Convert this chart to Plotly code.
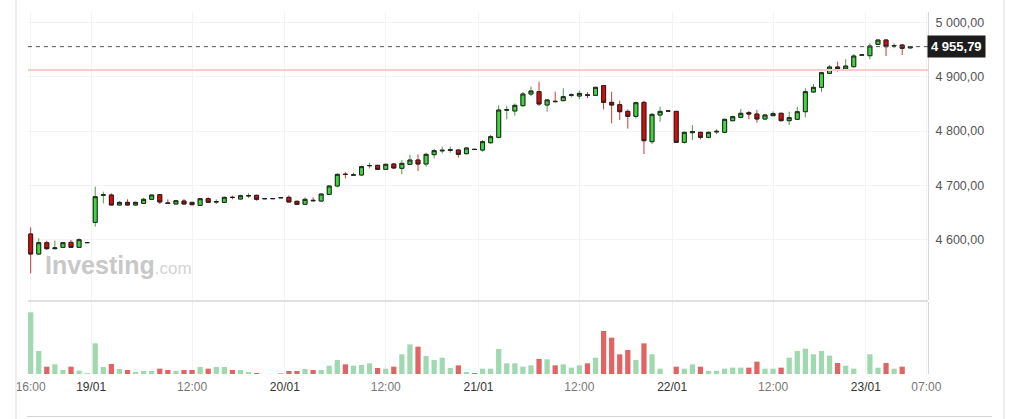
import plotly.graph_objects as go

# hourly candles, 18/01 16:00 -> 23/01 05:00 (index = candle number)
opens = [
    4610.1, 4573.2, 4594.1, 4583.1, 4585.5, 4594.7, 4585.5, 4594.1, 4631.6, 4681.5,
    4682.1, 4663.6, 4668.5, 4663.6, 4666.7, 4674.1, 4682.7, 4667.5, 4665.5, 4671.0,
    4668.5, 4663.0, 4675.3, 4669.0, 4668.5, 4678.0, 4674.7, 4680.3, 4681.5, 4675.3,
    4675.4, 4677.0, 4677.8, 4670.4, 4664.9, 4672.3, 4671.0, 4683.3, 4698.7, 4720.5,
    4718.8, 4719.0, 4736.0, 4736.8, 4729.4, 4739.3, 4731.3, 4738.7, 4746.6, 4739.3,
    4756.5, 4763.5, 4764.5, 4765.1, 4758.3, 4766.5, 4765.1, 4778.6, 4788.5, 4838.5,
    4837.1, 4846.9, 4868.4, 4872.7, 4848.1, 4855.0, 4856.1, 4866.1, 4864.7, 4867.0,
    4866.0, 4883.8, 4853.0, 4848.7, 4836.4, 4827.2, 4853.0, 4780.5, 4829.7, 4837.2,
    4836.4, 4779.2, 4797.0, 4797.7, 4788.5, 4798.5, 4797.7, 4819.2, 4825.4, 4834.0,
    4831.5, 4822.3, 4828.4, 4832.8, 4819.2, 4821.7, 4835.8, 4872.1, 4880.7, 4906.6,
    4918.2, 4914.6, 4918.8, 4940.0, 4939.1, 4960.0, 4968.0, 4957.0, 4958.8, 4953.5,
]
highs = [
    4622.4, 4602.1, 4597.8, 4598.0, 4595.5, 4599.0, 4602.1, 4595.0, 4697.4, 4688.2,
    4685.2, 4671.0, 4674.1, 4670.0, 4677.0, 4683.0, 4683.9, 4674.0, 4673.0, 4674.7,
    4669.5, 4676.5, 4678.0, 4674.0, 4679.0, 4680.8, 4683.0, 4685.2, 4682.7, 4675.6,
    4675.6, 4677.3, 4681.5, 4672.0, 4677.8, 4677.8, 4685.0, 4700.0, 4722.0, 4724.5,
    4723.3, 4736.0, 4741.7, 4738.0, 4740.0, 4740.5, 4746.6, 4756.5, 4757.1, 4760.2,
    4767.0, 4771.2, 4771.2, 4766.3, 4770.0, 4767.0, 4783.6, 4792.8, 4847.5, 4846.3,
    4851.2, 4872.0, 4882.0, 4891.2, 4858.6, 4872.7, 4878.9, 4870.0, 4874.6, 4872.0,
    4882.0, 4884.0, 4872.7, 4856.1, 4840.1, 4854.3, 4856.1, 4832.7, 4845.0, 4838.0,
    4837.0, 4799.0, 4811.2, 4798.9, 4799.0, 4803.2, 4823.0, 4828.0, 4840.8, 4837.0,
    4838.9, 4831.0, 4836.4, 4834.0, 4835.8, 4845.0, 4878.9, 4886.9, 4909.6, 4921.9,
    4928.0, 4932.4, 4942.2, 4941.5, 4961.9, 4969.3, 4969.3, 4962.0, 4960.0, 4957.0,
]
lows = [
    4537.6, 4571.4, 4580.6, 4582.0, 4584.5, 4584.3, 4585.0, 4593.5, 4623.6, 4666.7,
    4663.0, 4663.0, 4663.0, 4663.0, 4666.0, 4673.0, 4665.5, 4666.0, 4665.0, 4665.0,
    4663.6, 4662.4, 4667.0, 4665.5, 4667.5, 4674.1, 4674.0, 4676.5, 4671.6, 4675.0,
    4675.2, 4676.8, 4667.9, 4664.0, 4663.6, 4671.0, 4670.0, 4682.0, 4696.0, 4712.8,
    4717.0, 4718.0, 4731.3, 4728.5, 4728.8, 4731.0, 4720.2, 4737.5, 4726.4, 4734.4,
    4749.7, 4758.9, 4760.2, 4751.0, 4757.5, 4765.5, 4762.0, 4776.2, 4786.6, 4821.7,
    4828.4, 4845.0, 4864.7, 4846.3, 4835.8, 4852.9, 4856.0, 4862.0, 4858.6, 4861.0,
    4865.0, 4840.1, 4814.3, 4820.5, 4804.5, 4823.5, 4757.7, 4776.2, 4817.4, 4836.0,
    4778.5, 4777.0, 4783.5, 4784.8, 4786.5, 4794.6, 4796.0, 4818.0, 4823.5, 4821.7,
    4815.5, 4821.0, 4827.8, 4818.0, 4811.2, 4820.5, 4825.4, 4870.9, 4872.7, 4905.3,
    4909.6, 4914.0, 4917.6, 4939.5, 4932.4, 4958.8, 4938.5, 4953.0, 4940.4, 4952.0,
]
closes = [
    4573.2, 4594.1, 4583.1, 4584.5, 4594.1, 4585.5, 4599.7, 4594.4, 4679.0, 4682.5,
    4663.6, 4668.5, 4663.6, 4668.5, 4674.1, 4682.1, 4669.2, 4666.5, 4671.6, 4665.5,
    4664.2, 4675.3, 4668.5, 4670.0, 4677.8, 4677.5, 4680.8, 4681.0, 4674.1, 4675.4,
    4675.5, 4677.2, 4669.2, 4664.9, 4674.1, 4671.6, 4683.9, 4698.7, 4720.2, 4720.0,
    4719.2, 4734.4, 4736.5, 4729.4, 4738.7, 4731.9, 4740.5, 4746.6, 4739.3, 4757.1,
    4763.9, 4764.5, 4765.5, 4757.1, 4768.8, 4766.0, 4780.5, 4789.7, 4838.9, 4839.5,
    4847.5, 4868.4, 4874.0, 4850.0, 4857.4, 4854.4, 4863.5, 4866.8, 4869.6, 4866.0,
    4880.7, 4853.0, 4848.1, 4835.8, 4827.2, 4852.4, 4782.3, 4830.9, 4836.4, 4837.0,
    4779.2, 4797.7, 4799.0, 4788.5, 4797.7, 4799.5, 4821.7, 4826.6, 4832.8, 4831.5,
    4822.3, 4829.7, 4832.2, 4819.2, 4824.8, 4835.8, 4872.7, 4880.7, 4907.8, 4918.2,
    4915.2, 4920.0, 4938.5, 4940.6, 4957.0, 4968.0, 4955.8, 4957.8, 4952.7, 4955.79,
]
volume = [
    185, 69, 22, 29, 12, 22, 10, 1, 92, 21,
    30, 15, 12, 6, 9, 9, 16, 12, 9, 12,
    12, 21, 16, 21, 21, 12, 12, 6, 3, 0,
    0, 1, 9, 9, 15, 12, 12, 25, 42, 29,
    25, 27, 32, 18, 16, 22, 59, 89, 82, 54,
    42, 49, 18, 26, 5, 2, 16, 16, 75, 32,
    32, 22, 26, 45, 44, 26, 29, 19, 26, 32,
    49, 129, 109, 59, 72, 42, 92, 59, 16, 0,
    22, 16, 29, 22, 9, 9, 16, 19, 19, 19,
    37, 16, 16, 19, 49, 69, 76, 59, 69, 55,
    33, 25, 16, 0, 59, 19, 33, 16, 22, 0,
]
# first bar is coloured against the close before the window, not its open
volume_up_override = {0: True}

tick_pos = [0, 7.5, 20, 31.5, 44, 55.5, 68, 79.5, 92, 103.5, 111]
tick_text = ["16:00", "19/01", "12:00", "20/01", "12:00", "21/01",
             "12:00", "22/01", "12:00", "23/01", "07:00"]
price_ticks = [4600, 4700, 4800, 4900, 5000]
last_price = 4955.79
prev_close = 4912.7


def fmt(v):
    # 4955.79 -> "4 955,79"
    return f"{v:,.2f}".replace(",", " ").replace(".", ",")


x = list(range(len(opens)))

GREEN = "#3fd63f"
RED = "#d20d0d"
WICK_UP = "#4a9a4a"
WICK_DN = "#c43a3a"
OUTLINE = "#222222"
VOL_UP = "#a0d8b0"
VOL_DN = "#e06464"
GRID = "#f3f3f3"
AXIS = "#d8d8d8"
FONT = "Liberation Sans, Arial, sans-serif"

fig = go.Figure()

# wicks (coloured), then bodies with a dark outline on top
fig.add_trace(go.Candlestick(
    x=x, open=opens, high=highs, low=lows, close=closes,
    xaxis="x", yaxis="y",
    increasing=dict(fillcolor=GREEN, line=dict(color=WICK_UP, width=1)),
    decreasing=dict(fillcolor=RED, line=dict(color=WICK_DN, width=1)),
    whiskerwidth=0, showlegend=False, hoverinfo="skip",
))
body_top = [max(o, c) for o, c in zip(opens, closes)]
body_bot = [min(o, c) for o, c in zip(opens, closes)]
fig.add_trace(go.Candlestick(
    x=x, open=opens, high=body_top, low=body_bot, close=closes,
    xaxis="x", yaxis="y",
    increasing=dict(fillcolor=GREEN, line=dict(color=OUTLINE, width=1)),
    decreasing=dict(fillcolor=RED, line=dict(color=OUTLINE, width=1)),
    whiskerwidth=0, showlegend=False,
))

vol_colors = []
for i, (o, c) in enumerate(zip(opens, closes)):
    up = volume_up_override.get(i, c >= o)
    vol_colors.append(VOL_UP if up else VOL_DN)
fig.add_trace(go.Bar(
    x=x, y=volume, marker_color=vol_colors, marker_line_width=0,
    xaxis="x2", yaxis="y2", showlegend=False,
))

# pixel layout: plot area x 28..928, y 12..374
top_dom = (374 - 300) / 362
vol_dom = (374 - 302) / 362

labels = []
for t in tick_text:
    if "/" in t:
        labels.append(f"<span style='color:#333'>{t}</span>")
    else:
        labels.append(f"<span style='color:#777'>{t}</span>")

fig.update_layout(
    width=1020, height=419,
    margin=dict(l=28, r=92, t=12, b=45),
    paper_bgcolor="white", plot_bgcolor="white",
    font=dict(family=FONT, size=12, color="#555"),
    bargap=0.35,
    boxmode="overlay",
    showlegend=False,
    xaxis=dict(
        domain=[0, 1], anchor="y", range=[-0.33, 111.2],
        tickvals=tick_pos, showticklabels=False,
        showgrid=True, gridcolor=GRID, zeroline=False,
        rangeslider=dict(visible=False),
    ),
    xaxis2=dict(
        domain=[0, 1], anchor="y2", matches="x", range=[-0.33, 111.2],
        tickvals=tick_pos, ticktext=labels, ticks="",
        tickfont=dict(size=12, family=FONT),
        ticklabelstandoff=4,
        showgrid=True, gridcolor=GRID, zeroline=False,
    ),
    yaxis=dict(
        domain=[top_dom, 1], anchor="x", side="right",
        range=[4488.4, 5019.7],
        tickvals=price_ticks, ticktext=[fmt(v) for v in price_ticks],
        tickfont=dict(size=12.5, family=FONT, color="#555"),
        ticks="", ticklabelstandoff=4,
        showgrid=True, gridcolor=GRID, zeroline=False,
        showline=True, linecolor=AXIS, linewidth=1,
    ),
    yaxis2=dict(
        domain=[0, vol_dom], anchor="x2", side="right",
        range=[0, 216], showticklabels=False, showgrid=False,
        zeroline=False, showline=True, linecolor=AXIS, linewidth=1,
    ),
)

# reference lines: previous close and last price
fig.add_shape(type="line", xref="x domain", yref="y", x0=0, x1=1,
              y0=prev_close, y1=prev_close, line=dict(color="#f6cccc", width=2))
fig.add_shape(type="line", xref="x domain", yref="y", x0=0, x1=1,
              y0=last_price, y1=last_price,
              line=dict(color="#555", width=1, dash="4px,4px"))

# pane separator and frame
sep_y = (374 - 301) / 362
fig.add_shape(type="line", xref="paper", yref="paper", x0=0, x1=1,
              y0=sep_y, y1=sep_y, line=dict(color="#d6d6d6", width=1.5))
fig.add_shape(type="line", xref="paper", yref="paper",
              x0=(16 - 28) / 900, x1=(16 - 28) / 900, y0=-0.13, y1=1.04,
              line=dict(color="#dcdcdc", width=1))
fig.add_shape(type="line", xref="paper", yref="paper",
              x0=(1004 - 28) / 900, x1=(1004 - 28) / 900, y0=-0.13, y1=1.04,
              line=dict(color="#dcdcdc", width=1))
fig.add_shape(type="line", xref="paper", yref="paper",
              x0=(27 - 28) / 900, x1=(992 - 28) / 900,
              y0=(374 - 416.5) / 362, y1=(374 - 416.5) / 362,
              line=dict(color="#d6d6d6", width=1))

# last price tag
fig.add_annotation(
    xref="paper", yref="y", x=1, y=last_price, xanchor="left", yanchor="middle",
    text=f"<b>{fmt(last_price)}</b>", showarrow=False,
    font=dict(color="white", size=13, family=FONT),
    bgcolor="#1c1c1c", borderpad=3, xshift=-1,
)

# watermark
fig.add_annotation(
    xref="paper", yref="paper", x=(43 - 28) / 900, y=(374 - 265) / 362,
    xanchor="left", yanchor="middle", showarrow=False,
    text="<b>Investing</b><span style='font-size:17px;color:#d4d4d4;font-weight:normal'>.com</span>",
    font=dict(color="#c8c8c8", size=25, family=FONT),
)

# drop the browser's default 8px body margin so the figure sits at 0,0
fig.write_html("out.html", config={"displayModeBar": False},
               post_script="document.body.style.margin='0';")
